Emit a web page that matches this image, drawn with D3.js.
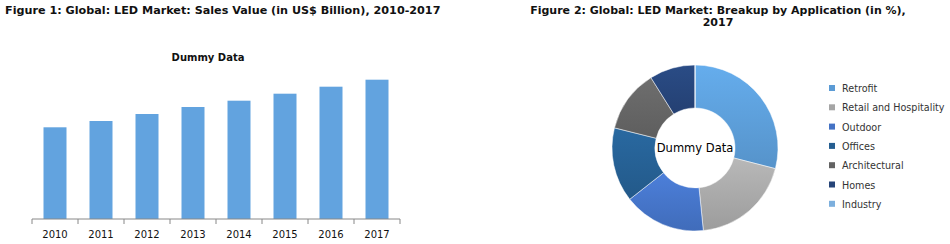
<!DOCTYPE html>
<html>
<head>
<meta charset="utf-8">
<script src="https://cdn.jsdelivr.net/npm/d3@7"></script>
<style>
  body { margin: 0; background: #fff; }
  svg { display: block; }
  text { font-family: "DejaVu Sans", Verdana, sans-serif; }
</style>
</head>
<body>
<div id="chart"></div>
<script>
const width = 950;
const height = 244;

// figure 1 data
const years = ["2010", "2011", "2012", "2013", "2014", "2015", "2016", "2017"];
const salesValues = [13.1, 14.0, 15.0, 16.0, 16.9, 17.9, 18.9, 19.9];

// figure 2 data
const applications = ["Retrofit", "Retail and Hospitality", "Outdoor", "Offices", "Architectural", "Homes", "Industry"];
const applicationShares = [29.0, 19.4, 16.0, 14.5, 12.2, 8.9, 0.0];
const applicationColors = ["#5b9bd5", "#a5a5a5", "#4472c4", "#255e91", "#636363", "#264478", "#7cafdd"];

const svg = d3.select("#chart")
  .append("svg")
  .attr("width", width)
  .attr("height", height)
  .attr("viewBox", `0 0 ${width} ${height}`);

const defs = svg.append("defs");

// ---------- Figure 1: bars ----------
svg.append("text")
  .attr("x", 5)
  .attr("y", 14)
  .style("font-size", "11.2px")
  .style("font-weight", "bold")
  .attr("fill", "#111")
  .text("Figure 1: Global: LED Market: Sales Value (in US$ Billion), 2010-2017");

svg.append("text")
  .attr("x", 208)
  .attr("y", 61)
  .attr("text-anchor", "middle")
  .style("font-size", "10px")
  .style("font-weight", "bold")
  .attr("fill", "#111")
  .text("Dummy Data");

const x = d3.scaleBand()
  .domain(years)
  .range([32, 400])
  .paddingInner(0.5)
  .paddingOuter(0.25);

const y = d3.scaleLinear()
  .domain([0, 20])
  .range([219, 79]);

svg.append("g")
  .selectAll("rect")
  .data(salesValues)
  .join("rect")
  .attr("x", (d, i) => x(years[i]))
  .attr("y", d => y(d))
  .attr("width", x.bandwidth())
  .attr("height", d => y(0) - y(d))
  .attr("fill", "#62a3df");

const xAxis = svg.append("g")
  .attr("transform", `translate(0,${y(0)})`);

xAxis.append("line")
  .attr("x1", 32)
  .attr("x2", 400)
  .attr("stroke", "#888")
  .attr("stroke-width", 1);

const tickPos = years.map(yr => x(yr) - x.step() * x.paddingInner() / 2).concat([400]);
xAxis.selectAll(".tk")
  .data(tickPos)
  .join("line")
  .attr("class", "tk")
  .attr("x1", d => d)
  .attr("x2", d => d)
  .attr("y1", 0)
  .attr("y2", 5)
  .attr("stroke", "#888");

xAxis.selectAll(".lbl")
  .data(years)
  .join("text")
  .attr("class", "lbl")
  .attr("x", d => x(d) + x.bandwidth() / 2)
  .attr("y", 19)
  .attr("text-anchor", "middle")
  .style("font-size", "10px")
  .attr("fill", "#111")
  .text(d => d);

// ---------- Figure 2: donut ----------
svg.append("text")
  .attr("x", 718)
  .attr("y", 14)
  .attr("text-anchor", "middle")
  .style("font-size", "11px")
  .style("font-weight", "bold")
  .attr("fill", "#111")
  .text("Figure 2: Global: LED Market: Breakup by Application (in %),");

svg.append("text")
  .attr("x", 718)
  .attr("y", 26)
  .attr("text-anchor", "middle")
  .style("font-size", "11px")
  .style("font-weight", "bold")
  .attr("fill", "#111")
  .text("2017");

applicationColors.forEach((c, i) => {
  const g = defs.append("linearGradient")
    .attr("id", "grad" + i)
    .attr("x1", 0).attr("y1", 0)
    .attr("x2", 0).attr("y2", 1);
  g.append("stop").attr("offset", "0%").attr("stop-color", d3.color(c).brighter(0.3));
  g.append("stop").attr("offset", "100%").attr("stop-color", d3.color(c).darker(0.15));
});

const pie = d3.pie().sort(null).value(d => d);
const arc = d3.arc().innerRadius(40).outerRadius(83);

const donut = svg.append("g")
  .attr("transform", "translate(695,148)");

donut.selectAll("path")
  .data(pie(applicationShares))
  .join("path")
  .attr("d", arc)
  .attr("fill", (d, i) => `url(#grad${i})`)
  .attr("stroke", "#fff")
  .attr("stroke-width", 0.5);

donut.append("text")
  .attr("y", 4)
  .attr("text-anchor", "middle")
  .style("font-size", "11.5px")
  .style("font-weight", "500")
  .attr("fill", "#000")
  .text("Dummy Data");

// legend
const legend = svg.append("g")
  .attr("transform", "translate(829,85)");

const rows = legend.selectAll("g")
  .data(applications)
  .join("g")
  .attr("transform", (d, i) => `translate(0,${i * 19.3})`);

rows.append("rect")
  .attr("width", 6)
  .attr("height", 6)
  .attr("fill", (d, i) => applicationColors[i]);

rows.append("text")
  .attr("x", 13)
  .attr("y", 7)
  .style("font-size", "9.6px")
  .attr("fill", "#333")
  .text(d => d);
</script>
</body>
</html>
